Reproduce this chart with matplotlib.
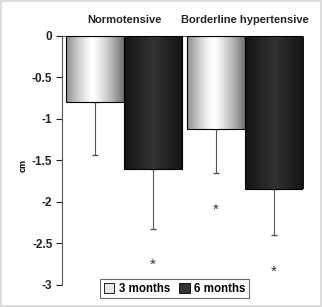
import numpy as np
import matplotlib.pyplot as plt
from matplotlib.patches import Patch

plt.rcParams["font.family"] = ["Liberation Sans", "DejaVu Sans"]

# datos
grupos = ["Normotensive", "Borderline hypertensive"]
series = ["3 months", "6 months"]
valores_3m = [-0.80, -1.12]
valores_6m = [-1.60, -1.84]
error_3m = [0.63, 0.53]
error_6m = [0.73, 0.56]
asterisco_3m = [None, -2.10]
asterisco_6m = [-2.76, -2.84]

fig = plt.figure(figsize=(3.22, 3.07), dpi=100)
fig.patch.set_edgecolor("#dcdcdc")
fig.patch.set_linewidth(1.5)
ax = fig.add_axes([0.193, 0.072, 0.748, 0.811])

x = np.arange(len(grupos))
w = 0.48

# gradientes horizontales (claro y oscuro)
t = np.linspace(0, 1, 256)
claro = 1 - 0.58 * (np.abs(t - 0.45) / 0.55) ** 1.3
oscuro = 0.2 - 0.12 * np.abs(t - 0.5) / 0.5
grad_claro = np.tile(np.clip(claro, 0, 1), (2, 1))
grad_oscuro = np.tile(oscuro, (2, 1))

def barras_gradiente(pos, vals, grad):
    barras = ax.bar(pos, vals, w, color="none", edgecolor="black", linewidth=0.8, zorder=3)
    for b in barras:
        x0, y0 = b.get_x(), b.get_y()
        im = ax.imshow(grad, cmap="gray", vmin=0, vmax=1, aspect="auto",
                       extent=[x0, x0 + b.get_width(), y0, y0 + b.get_height()], zorder=2)
        im.set_clip_path(b)
    return barras

barras_gradiente(x - w / 2, valores_3m, grad_claro)
barras_gradiente(x + w / 2, valores_6m, grad_oscuro)

# barras de error solo hacia abajo
ax.errorbar(x - w / 2, valores_3m, yerr=[error_3m, [0, 0]], fmt="none",
            ecolor="#555555", elinewidth=0.8, capsize=2, zorder=1)
ax.errorbar(x + w / 2, valores_6m, yerr=[error_6m, [0, 0]], fmt="none",
            ecolor="#555555", elinewidth=0.8, capsize=2, zorder=1)

for xi, a in zip(x - w / 2, asterisco_3m):
    if a is not None:
        ax.text(xi, a, "*", ha="center", va="center", fontsize=11, color="#333333")
for xi, a in zip(x + w / 2, asterisco_6m):
    if a is not None:
        ax.text(xi, a, "*", ha="center", va="center", fontsize=11, color="#333333")

for xi, g in zip(x, grupos):
    ax.text(xi, 0.19, g, ha="center", va="center", fontsize=8, fontweight="bold",
            color="#222222")

ax.set_xlim(-0.512, 1.479)
ax.set_ylim(-3, 0)
ax.set_yticks([0, -0.5, -1, -1.5, -2, -2.5, -3])
ax.set_yticklabels(["0", "-0.5", "-1", "-1.5", "-2", "-2.5", "-3"])
ax.set_xticks([])
ax.tick_params(axis="y", direction="out", length=4, width=0.8, labelsize=8.5, pad=3,
               colors="#222222")
for lab in ax.get_yticklabels():
    lab.set_fontweight("bold")
ax.spines["right"].set_visible(False)
ax.spines["bottom"].set_visible(False)
ax.spines["left"].set_color("#555555")
ax.spines["top"].set_color("#555555")
ax.spines["left"].set_linewidth(0.8)
ax.spines["top"].set_linewidth(0.8)
ax.set_ylabel("cm", fontsize=6.5, fontweight="bold")
ax.yaxis.set_label_coords(-0.145, 0.48)

handles = [Patch(facecolor="#e8e8e8", edgecolor="black", linewidth=0.6),
           Patch(facecolor="#333333", edgecolor="black", linewidth=0.6)]
leg = fig.legend(handles, series, loc="center", bbox_to_anchor=(0.543, 0.059), ncol=2,
                 fontsize=8.3, frameon=True, fancybox=False, edgecolor="#444444",
                 handlelength=0.9, handleheight=0.9, handletextpad=0.4, columnspacing=0.8,
                 borderpad=0.3)
for txt in leg.get_texts():
    txt.set_fontweight("bold")
leg.get_frame().set_linewidth(0.8)

fig.savefig("out.png", dpi=100)
